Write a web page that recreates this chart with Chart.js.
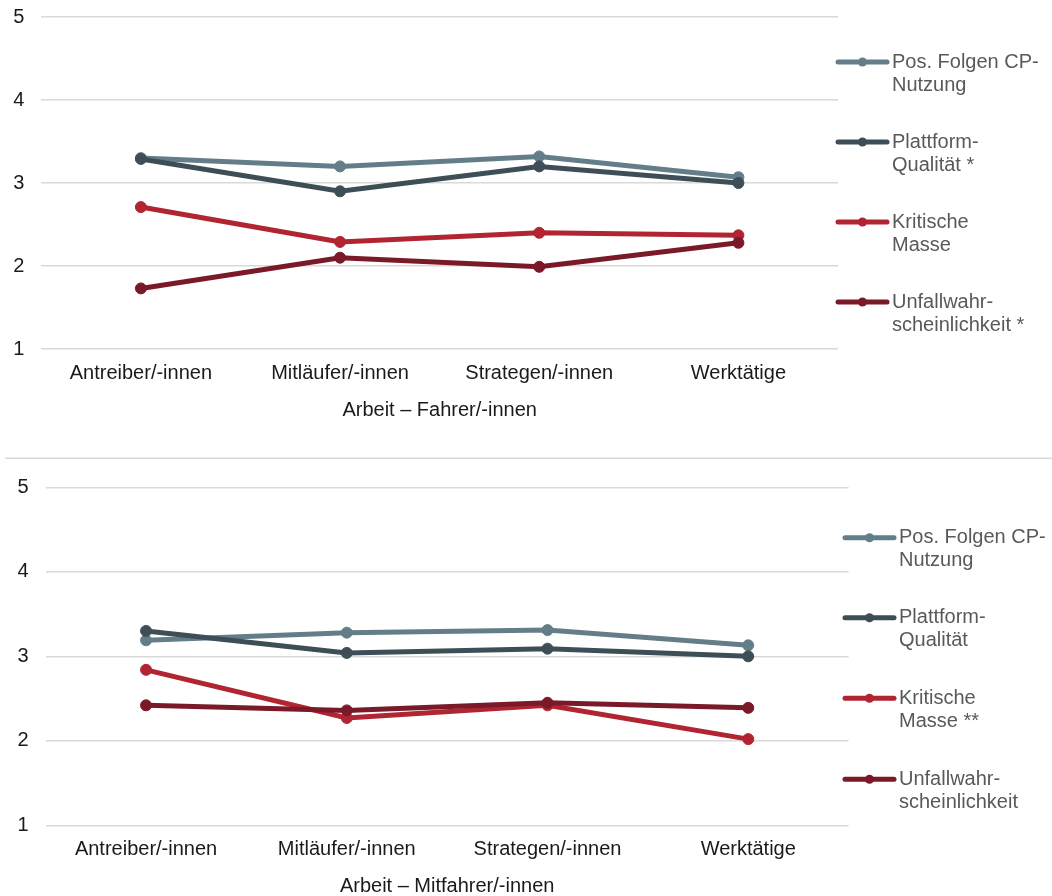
<!DOCTYPE html>
<html>
<head>
<meta charset="utf-8">
<script src="https://cdn.jsdelivr.net/npm/chart.js@4.4.1/dist/chart.umd.min.js"></script>
<style>
  html, body { margin: 0; padding: 0; background: #fff; overflow: hidden; width: 1052px; height: 896px; }
  #c1 { position: absolute; left: 0; top: 0; }
  #c2 { position: absolute; left: 0; top: 440px; }
</style>
</head>
<body>
<canvas id="c1" width="1052" height="440"></canvas>
<canvas id="c2" width="1052" height="470"></canvas>
<script>
// ---- data ----
const categories = ['Antreiber/-innen', 'Mitläufer/-innen', 'Strategen/-innen', 'Werktätige'];
const yTicks = [1, 2, 3, 4, 5];

const titleTop = 'Arbeit – Fahrer/-innen';
const titleBottom = 'Arbeit – Mitfahrer/-innen';

const labelsTop = [['Pos. Folgen CP-', 'Nutzung'], ['Plattform-', 'Qualität *'], ['Kritische', 'Masse'], ['Unfallwahr-', 'scheinlichkeit *']];
const labelsBottom = [['Pos. Folgen CP-', 'Nutzung'], ['Plattform-', 'Qualität'], ['Kritische', 'Masse **'], ['Unfallwahr-', 'scheinlichkeit']];

const posFolgenTop = [3.30, 3.20, 3.32, 3.07];
const plattformTop = [3.29, 2.90, 3.20, 3.00];
const kritischeTop = [2.71, 2.29, 2.40, 2.37];
const unfallTop = [1.73, 2.10, 1.99, 2.28];

const posFolgenBottom = [3.19, 3.28, 3.31, 3.13];
const plattformBottom = [3.30, 3.04, 3.09, 3.00];
const kritischeBottom = [2.84, 2.27, 2.42, 2.02];
const unfallBottom = [2.42, 2.36, 2.45, 2.39];

// ---- styles ----
const colors = ['#647E89', '#3E4E57', '#B12431', '#7A1A28'];
const FONT = "'Liberation Sans', Arial, Helvetica, sans-serif";

function legendPlugin(cfg) {
  return {
    id: 'customLegend',
    afterDraw(chart) {
      const ctx = chart.ctx;
      ctx.save();
      if (cfg.sepY !== undefined) {
        ctx.strokeStyle = '#d9d9d9';
        ctx.lineWidth = 1.5;
        ctx.beginPath();
        ctx.moveTo(5, cfg.sepY);
        ctx.lineTo(1052, cfg.sepY);
        ctx.stroke();
      }
      chart.data.datasets.forEach((ds, i) => {
        const y = cfg.ys[i];
        ctx.strokeStyle = ds.borderColor;
        ctx.lineWidth = 5;
        ctx.lineCap = 'round';
        ctx.beginPath();
        ctx.moveTo(cfg.x0 + 2, y);
        ctx.lineTo(cfg.x1 - 2, y);
        ctx.stroke();
        ctx.fillStyle = ds.borderColor;
        ctx.beginPath();
        ctx.arc((cfg.x0 + cfg.x1) / 2, y, 4.5, 0, Math.PI * 2);
        ctx.fill();
        ctx.fillStyle = '#595959';
        ctx.font = '20px ' + FONT;
        ctx.textAlign = 'left';
        ctx.textBaseline = 'middle';
        ds.legendLines.forEach((line, k) => {
          ctx.fillText(line, cfg.textX, y + k * 23);
        });
      });
      ctx.restore();
    }
  };
}

function makeChart(id, series, labels, title, geo) {
  const datasets = series.map((vals, i) => ({
    label: labels[i].join(' '),
    legendLines: labels[i],
    data: vals,
    borderColor: colors[i],
    backgroundColor: colors[i],
    pointBackgroundColor: colors[i],
    pointBorderColor: colors[i],
    borderWidth: 5,
    pointRadius: 5.5,
    pointBorderWidth: 1,
    tension: 0,
    fill: false,
    order: series.length - i
  }));
  return new Chart(document.getElementById(id), {
    type: 'line',
    data: { labels: categories, datasets },
    options: {
      responsive: false,
      animation: false,
      events: [],
      layout: { padding: { left: 0, right: geo.padRight, top: geo.padTop, bottom: 0 } },
      plugins: { legend: { display: false }, tooltip: { enabled: false } },
      scales: {
        x: {
          type: 'category',
          offset: true,
          grid: { display: false, drawTicks: false },
          border: { display: false },
          ticks: { color: '#1a1a1a', font: { size: 20, family: FONT }, padding: geo.xTickPad, maxRotation: 0, autoSkip: false },
          title: { display: true, text: title, color: '#1a1a1a', font: { size: 20, family: FONT }, padding: { top: 0, bottom: geo.titlePadBottom } },
          afterFit(scale) { scale.height = geo.xHeight; scale.paddingLeft = 0; scale.paddingRight = 0; }
        },
        y: {
          min: yTicks[0],
          max: yTicks[yTicks.length - 1],
          afterBuildTicks(scale) { scale.ticks = yTicks.map(v => ({ value: v })); },
          grid: { color: '#d9d9d9', lineWidth: 1.5, drawTicks: false },
          border: { display: false },
          ticks: { color: '#1a1a1a', font: { size: 20, family: FONT }, padding: 17 },
          afterFit(scale) { scale.width = geo.yWidth; scale.paddingTop = 0; scale.paddingBottom = 0; }
        }
      }
    },
    plugins: [legendPlugin(geo.legend)]
  });
}

makeChart('c1', [posFolgenTop, plattformTop, kritischeTop, unfallTop], labelsTop, titleTop, {
  padRight: 214, padTop: 17, yWidth: 41.3, xHeight: 91, xTickPad: 12, titlePadBottom: 18,
  legend: { x0: 836, x1: 889, textX: 892, ys: [62, 142, 222, 302] }
});

makeChart('c2', [posFolgenBottom, plattformBottom, kritischeBottom, unfallBottom], labelsBottom, titleBottom, {
  padRight: 203.4, padTop: 47.3, yWidth: 45.7, xHeight: 84.7, xTickPad: 12, titlePadBottom: 11.3,
  legend: { x0: 843, x1: 896, textX: 899, ys: [97.7, 177.7, 258.3, 339.3], sepY: 18.3 }
});
</script>
</body>
</html>
